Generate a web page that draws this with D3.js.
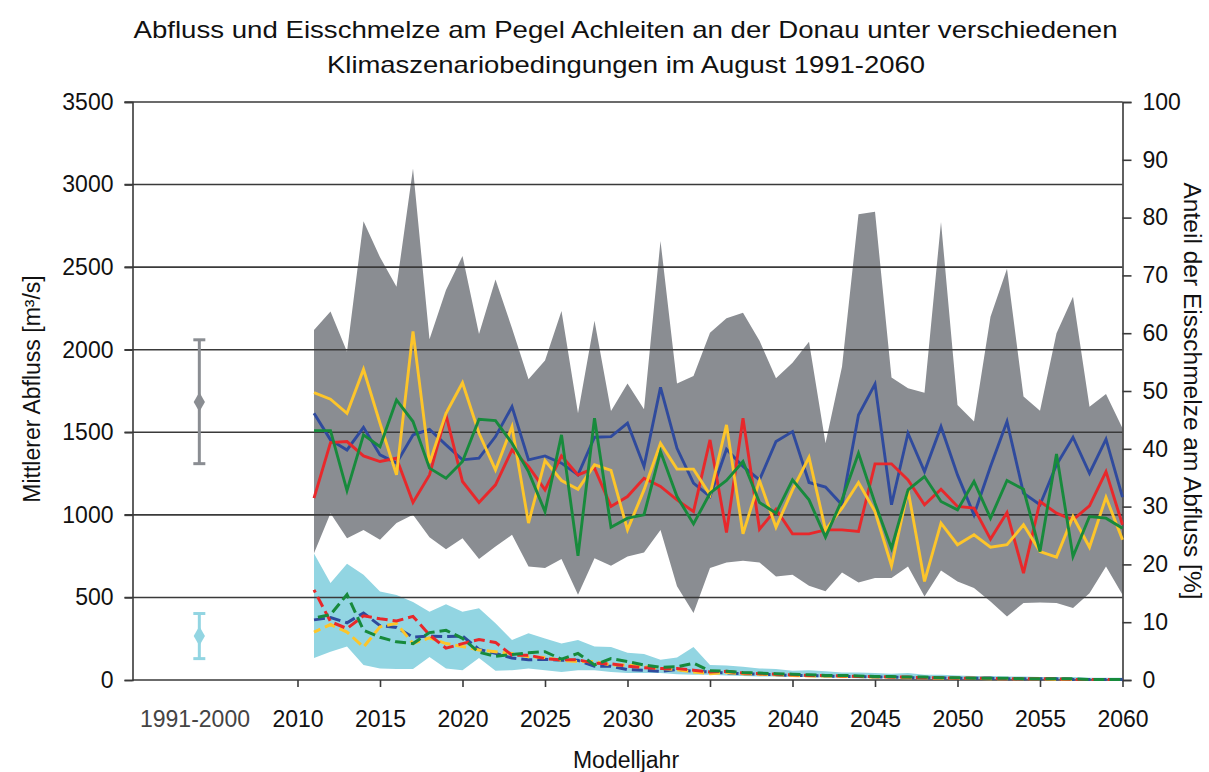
<!DOCTYPE html>
<html>
<head>
<meta charset="utf-8">
<script src="https://cdn.jsdelivr.net/npm/d3@7"></script>
<style>
  body { margin: 0; background: #fff; }
  text { font-family: "Liberation Sans", Arial, sans-serif; }
</style>
</head>
<body>
<div id="chart"></div>
<script>
const WIDTH = 1209, HEIGHT = 772

// model years 2011..2060
const years = d3.range(2011, 2061)

// discharge [m3/s] - envelope of all scenarios
const flowMax = [2119, 2232, 1988, 2778, 2560, 2381, 3097, 2063, 2361, 2567,
  2095, 2425, 2130, 1821, 1934, 2234, 1615, 2175, 1629, 1796,
  1639, 2659, 1796, 1841, 2103, 2190, 2224, 2054, 1827, 1921,
  2048, 1433, 1897, 2821, 2835, 1831, 1766, 1740, 2774, 1665,
  1565, 2200, 2490, 1716, 1631, 2099, 2321, 1655, 1732, 1524]
const flowMin = [768, 1010, 859, 909, 849, 950, 1000, 865, 792, 859,
  732, 809, 879, 688, 678, 732, 516, 738, 692, 748,
  772, 909, 567, 405, 678, 712, 722, 712, 627, 637,
  571, 537, 651, 591, 617, 617, 688, 506, 663, 597,
  557, 476, 385, 466, 470, 466, 436, 526, 688, 516]

// discharge per scenario
const flowBlue = [1615, 1454, 1393, 1530, 1363, 1313, 1484, 1518, 1424, 1333,
  1343, 1474, 1655, 1333, 1357, 1313, 1242, 1470, 1474, 1555,
  1293, 1772, 1403, 1192, 1111, 1397, 1293, 1212, 1444, 1504,
  1196, 1168, 1061, 1605, 1792, 1061, 1494, 1262, 1534, 1242,
  1000, 1293, 1565, 1131, 1061, 1303, 1470, 1252, 1458, 1107]
const flowRed = [1101, 1438, 1444, 1357, 1323, 1343, 1075, 1242, 1605, 1202,
  1075, 1182, 1393, 1293, 1151, 1357, 1242, 1283, 1051, 1111,
  1222, 1172, 1091, 1020, 1454, 893, 1585, 913, 1034, 885,
  885, 909, 909, 899, 1309, 1309, 1212, 1061, 1155, 1051,
  1041, 853, 1014, 647, 1081, 1010, 970, 1055, 1262, 940]
const flowYellow = [1740, 1700, 1615, 1881, 1555, 1242, 2111, 1313, 1615, 1800,
  1494, 1272, 1534, 950, 1329, 1208, 1155, 1303, 1269, 909,
  1151, 1434, 1277, 1277, 1121, 1545, 885, 1208, 925, 1151,
  1349, 909, 1040, 1196, 1020, 692, 1151, 597, 950, 819,
  879, 804, 819, 940, 778, 744, 990, 804, 1107, 849]
const flowGreen = [1510, 1510, 1147, 1484, 1413, 1696, 1565, 1283, 1222, 1323,
  1579, 1571, 1434, 1262, 1020, 1484, 752, 1585, 925, 980,
  1000, 1383, 1111, 945, 1131, 1208, 1323, 1075, 1010, 1212,
  1091, 865, 1091, 1373, 1071, 798, 1151, 1232, 1081, 1030,
  1202, 980, 1208, 1155, 778, 1369, 748, 990, 980, 919]

// share of ice melt [%] - envelope
const iceMax = [21.9, 16.8, 20.1, 18.2, 15.3, 14.7, 13.5, 11.8, 13.1, 11.8,
  12.4, 9.8, 6.9, 8.1, 7.2, 6.3, 6.9, 5.8, 5.7, 4.7,
  4.5, 3.5, 3.9, 5.7, 2.6, 2.5, 2.3, 2.0, 1.9, 1.6,
  1.7, 1.5, 1.3, 1.3, 1.2, 1.1, 1.2, 0.9, 0.9, 0.8,
  0.7, 0.7, 0.6, 0.6, 0.5, 0.5, 0.5, 0.4, 0.4, 0.4]
const iceMin = [3.8, 4.9, 5.8, 2.6, 2.0, 1.9, 1.9, 4.0, 2.0, 1.7,
  3.8, 1.6, 1.7, 2.0, 1.7, 1.4, 1.7, 1.7, 1.4, 1.2,
  1.2, 1.2, 1.0, 0.9, 0.9, 0.8, 0.7, 0.6, 0.6, 0.5,
  0.5, 0.4, 0.4, 0.3, 0.3, 0.3, 0.2, 0.2, 0.2, 0.2,
  0.1, 0.1, 0.1, 0.1, 0.1, 0.1, 0.1, 0.0, 0.0, 0.0]

// share of ice melt per scenario
const iceBlue = [10.4, 10.8, 9.9, 11.6, 9.4, 9.1, 7.4, 7.6, 7.5, 7.6,
  5.3, 4.6, 3.8, 3.5, 3.6, 3.4, 3.4, 2.4, 2.4, 1.8,
  1.7, 1.5, 1.8, 1.5, 1.4, 1.2, 1.1, 1.0, 0.9, 0.8,
  0.8, 0.7, 0.6, 0.6, 0.5, 0.5, 0.4, 0.4, 0.4, 0.3,
  0.3, 0.3, 0.2, 0.2, 0.2, 0.2, 0.1, 0.1, 0.1, 0.1]
const iceRed = [15.6, 10.1, 8.9, 11.1, 10.6, 10.2, 11.0, 7.8, 5.5, 6.3,
  7.0, 6.5, 4.3, 4.3, 3.7, 3.5, 3.5, 2.9, 2.8, 2.4,
  2.1, 2.0, 2.0, 1.7, 1.4, 1.5, 1.2, 1.1, 1.0, 0.9,
  0.8, 0.8, 0.7, 0.6, 0.6, 0.5, 0.5, 0.4, 0.4, 0.3,
  0.3, 0.3, 0.2, 0.2, 0.2, 0.2, 0.1, 0.1, 0.1, 0.1]
const iceYellow = [8.3, 9.6, 8.3, 5.7, 9.2, 9.8, 6.3, 7.3, 6.3, 5.8,
  5.2, 4.9, 4.6, 4.0, 3.9, 3.4, 3.2, 3.2, 2.6, 2.6,
  2.3, 2.0, 1.8, 1.4, 1.1, 1.3, 1.1, 1.0, 0.9, 0.8,
  0.7, 0.7, 0.6, 0.6, 0.5, 0.5, 0.4, 0.4, 0.3, 0.3,
  0.3, 0.2, 0.2, 0.2, 0.2, 0.1, 0.1, 0.1, 0.1, 0.1]
const iceGreen = [10.7, 11.3, 14.8, 8.6, 7.4, 6.6, 6.3, 8.2, 8.6, 7.2,
  4.8, 4.1, 4.4, 4.7, 4.9, 3.6, 4.6, 2.6, 3.7, 3.2,
  2.6, 2.2, 2.3, 2.9, 1.6, 1.5, 1.3, 1.2, 1.1, 1.0,
  0.9, 0.8, 0.8, 0.7, 0.6, 0.6, 0.5, 0.5, 0.4, 0.4,
  0.3, 0.3, 0.3, 0.2, 0.2, 0.2, 0.2, 0.1, 0.1, 0.1]

// reference period 1991-2000: [low, mean, high]
const refLabel = "1991-2000"
const refFlow = [1310, 1683, 2060]
const refIce = [3.7, 7.6, 11.5]

const leftTicks = d3.range(0, 3501, 500)
const rightTicks = d3.range(0, 101, 10)
const yearTicks = d3.range(2010, 2061, 5)

var margin = {top: 102, right: 86.5, bottom: 92, left: 132.5}
var FS = 23

var svg = d3.select("#chart").append("svg")
  .attr("width", WIDTH).attr("height", HEIGHT)

var x = d3.scaleLinear().domain([2000, 2060]).range([margin.left, WIDTH - margin.right])
var y = d3.scaleLinear().domain([0, 3500]).range([HEIGHT - margin.bottom, margin.top])
var yR = d3.scaleLinear().domain([0, 100]).range([HEIGHT - margin.bottom, margin.top])
var refX = x(2004.05)

var colors = {blue: "#2f4a9d", red: "#e8282b", yellow: "#fdc52a", green: "#178a3c"}

// bands
var flowArea = d3.area()
  .x((d, i) => x(years[i]))
  .y0((d, i) => y(flowMin[i]))
  .y1((d, i) => y(flowMax[i]))
svg.append("path").datum(flowMax).attr("d", flowArea).attr("fill", "#8a8d92")

var iceArea = d3.area()
  .x((d, i) => x(years[i]))
  .y0((d, i) => yR(iceMin[i]))
  .y1((d, i) => yR(iceMax[i]))
svg.append("path").datum(iceMax).attr("d", iceArea).attr("fill", "#92d5e2")

// gridlines
svg.append("g")
  .selectAll("line").data(leftTicks.filter(d => d > 0)).enter().append("line")
  .attr("x1", margin.left - 8).attr("x2", x(2060))
  .attr("y1", d => y(d)).attr("y2", d => y(d))
  .attr("stroke", "#3a3a3a").attr("stroke-width", 1.6)

// axes
var left = svg.append("g").attr("transform", "translate(" + margin.left + ",0)")
  .call(d3.axisLeft(y).tickValues(leftTicks).tickFormat(d3.format("d")).tickSize(8).tickPadding(11))
var right = svg.append("g").attr("transform", "translate(" + x(2060) + ",0)")
  .call(d3.axisRight(yR).tickValues(rightTicks).tickSize(9).tickPadding(11))
var bottom = svg.append("g").attr("transform", "translate(0," + y(0) + ")")
  .call(d3.axisBottom(x).tickValues(yearTicks).tickFormat(d3.format("d")).tickSize(7).tickPadding(24))

;[left, right, bottom].forEach(g => {
  g.select(".domain").attr("stroke", "#3a3a3a").attr("stroke-width", 1.6)
  g.selectAll(".tick line").attr("stroke", "#3a3a3a").attr("stroke-width", 1.6)
  g.selectAll("text").attr("font-size", FS).attr("fill", "#111")
    .style("font-family", "Liberation Sans, Arial, sans-serif")
})
bottom.select(".domain").attr("d", "M" + margin.left + ",0H" + x(2060))

svg.append("text")
  .attr("x", 195).attr("y", 727)
  .attr("text-anchor", "middle").attr("font-size", FS).attr("fill", "#444")
  .text(refLabel)

// reference period error bars
function refBar(vals, scale, color) {
  var g = svg.append("g")
  g.append("line").attr("x1", refX).attr("x2", refX)
    .attr("y1", scale(vals[0])).attr("y2", scale(vals[2]))
    .attr("stroke", color).attr("stroke-width", 3)
  ;[vals[0], vals[2]].forEach(v => {
    g.append("line").attr("x1", refX - 6).attr("x2", refX + 6)
      .attr("y1", scale(v)).attr("y2", scale(v))
      .attr("stroke", color).attr("stroke-width", 3)
  })
  g.append("path")
    .attr("d", d3.symbol().type(d3.symbolDiamond).size(110))
    .attr("transform", "translate(" + refX + "," + scale(vals[1]) + ")")
    .attr("fill", color)
}
refBar(refFlow, y, "#8a8d92")
refBar(refIce, yR, "#92d5e2")

// scenario lines
var lineFlow = d3.line().x((d, i) => x(years[i])).y(d => y(d))
var lineIce = d3.line().x((d, i) => x(years[i])).y(d => yR(d))

var flowSeries = [[flowBlue, colors.blue], [flowRed, colors.red], [flowYellow, colors.yellow], [flowGreen, colors.green]]
flowSeries.forEach(s => {
  svg.append("path").datum(s[0]).attr("d", lineFlow)
    .attr("fill", "none").attr("stroke", s[1]).attr("stroke-width", 2.9)
    .attr("stroke-linejoin", "miter")
})

// dashed ice melt lines, green/red end up on top like in the original
var iceSeries = [[iceBlue, colors.blue], [iceYellow, colors.yellow], [iceRed, colors.red], [iceGreen, colors.green]]
iceSeries.forEach((s, k) => {
  svg.append("path").datum(s[0]).attr("d", lineIce)
    .attr("fill", "none").attr("stroke", s[1]).attr("stroke-width", 3)
    .attr("stroke-dasharray", "11,5").attr("stroke-dashoffset", k * 4)
})

// titles (the original lettering is a little wide, so stretch to its length)
svg.append("text").attr("x", 625.5).attr("y", 38).attr("text-anchor", "middle")
  .attr("font-size", 24).attr("fill", "#111")
  .attr("textLength", 984).attr("lengthAdjust", "spacingAndGlyphs")
  .text("Abfluss und Eisschmelze am Pegel Achleiten an der Donau unter verschiedenen")
svg.append("text").attr("x", 626).attr("y", 73).attr("text-anchor", "middle")
  .attr("font-size", 24).attr("fill", "#111")
  .attr("textLength", 598).attr("lengthAdjust", "spacingAndGlyphs")
  .text("Klimaszenariobedingungen im August 1991-2060")

svg.append("text").attr("x", 626).attr("y", 768).attr("text-anchor", "middle")
  .attr("font-size", FS).attr("fill", "#111").text("Modelljahr")

svg.append("text")
  .attr("transform", "translate(40,389) rotate(-90)")
  .attr("text-anchor", "middle").attr("font-size", FS).attr("fill", "#111")
  .text("Mittlerer Abfluss [m³/s]")

svg.append("text")
  .attr("transform", "translate(1184,391) rotate(90)")
  .attr("text-anchor", "middle").attr("font-size", FS).attr("fill", "#111")
  .attr("textLength", 417).attr("lengthAdjust", "spacingAndGlyphs")
  .text("Anteil der Eisschmelze am Abfluss [%]")
</script>
</body>
</html>
